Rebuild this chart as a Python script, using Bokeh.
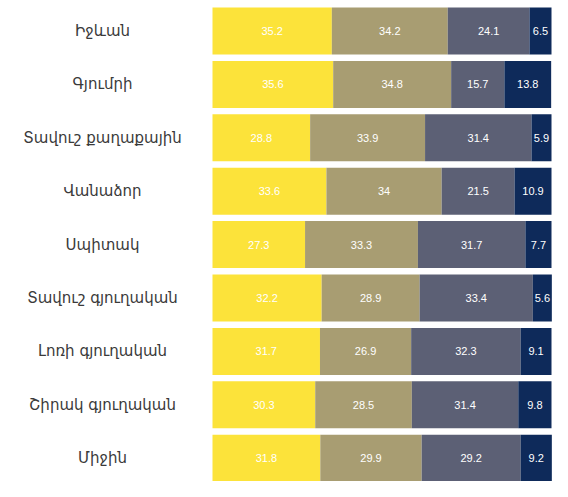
from bokeh.plotting import figure
from bokeh.models import ColumnDataSource, Range1d
from bokeh.core.properties import value
from bokeh.embed import file_html
from bokeh.resources import INLINE

categories = ["Իջևան", "Գյումրի", "Տավուշ քաղաքային", "Վանաձոր", "Սպիտակ",
              "Տավուշ գյուղական", "Լոռի գյուղական", "Շիրակ գյուղական", "Միջին"]
s1 = [35.2, 35.6, 28.8, 33.6, 27.3, 32.2, 31.7, 30.3, 31.8]
s2 = [34.2, 34.8, 33.9, 34.0, 33.3, 28.9, 26.9, 28.5, 29.9]
s3 = [24.1, 15.7, 31.4, 21.5, 31.7, 33.4, 32.3, 31.4, 29.2]
s4 = [6.5, 13.8, 5.9, 10.9, 7.7, 5.6, 9.1, 9.8, 9.2]
series = [s1, s2, s3, s4]
colors = ["#FCE33A", "#A89D72", "#5C6075", "#0E2A5A"]

W, H = 552, 481
left_px = 212
scale = (551 - left_px) / 100.0
pitch = 53.4
top_center = 30.5
y_top = -top_center / pitch

p = figure(width=W, height=H, output_backend="svg", toolbar_location=None,
           x_range=Range1d(-left_px / scale, (W - left_px) / scale),
           y_range=Range1d(y_top + H / pitch, y_top),
           min_border=0, outline_line_color=None)
p.xaxis.visible = False
p.yaxis.visible = False
p.grid.visible = False
p.background_fill_color = "white"
p.border_fill_color = "white"

ys = list(range(len(categories)))
left = [0.0] * len(categories)
for vals, col in zip(series, colors):
    right = [l + v for l, v in zip(left, vals)]
    mid = [(l + r) / 2 for l, r in zip(left, right)]
    labels = [("%g" % v) for v in vals]
    src = ColumnDataSource(dict(y=ys, left=left, right=right, mid=mid, lab=labels))
    p.hbar(y="y", left="left", right="right", height=0.88, source=src,
           fill_color=col, line_color=None)
    p.text(x="mid", y="y", text="lab", source=src, text_color="white",
           text_font=value("Liberation Sans"), text_font_size="11px",
           text_align="center", text_baseline="middle")
    left = right

cat_src = ColumnDataSource(dict(y=ys, name=categories,
                                x=[(102 - left_px) / scale] * len(categories)))
p.text(x="x", y="y", text="name", source=cat_src, text_color="#3a3a3a",
       text_font=value("DejaVu Sans"), text_font_size="15px",
       text_align="center", text_baseline="middle")

open("out.html", "w").write(file_html(p, INLINE))
